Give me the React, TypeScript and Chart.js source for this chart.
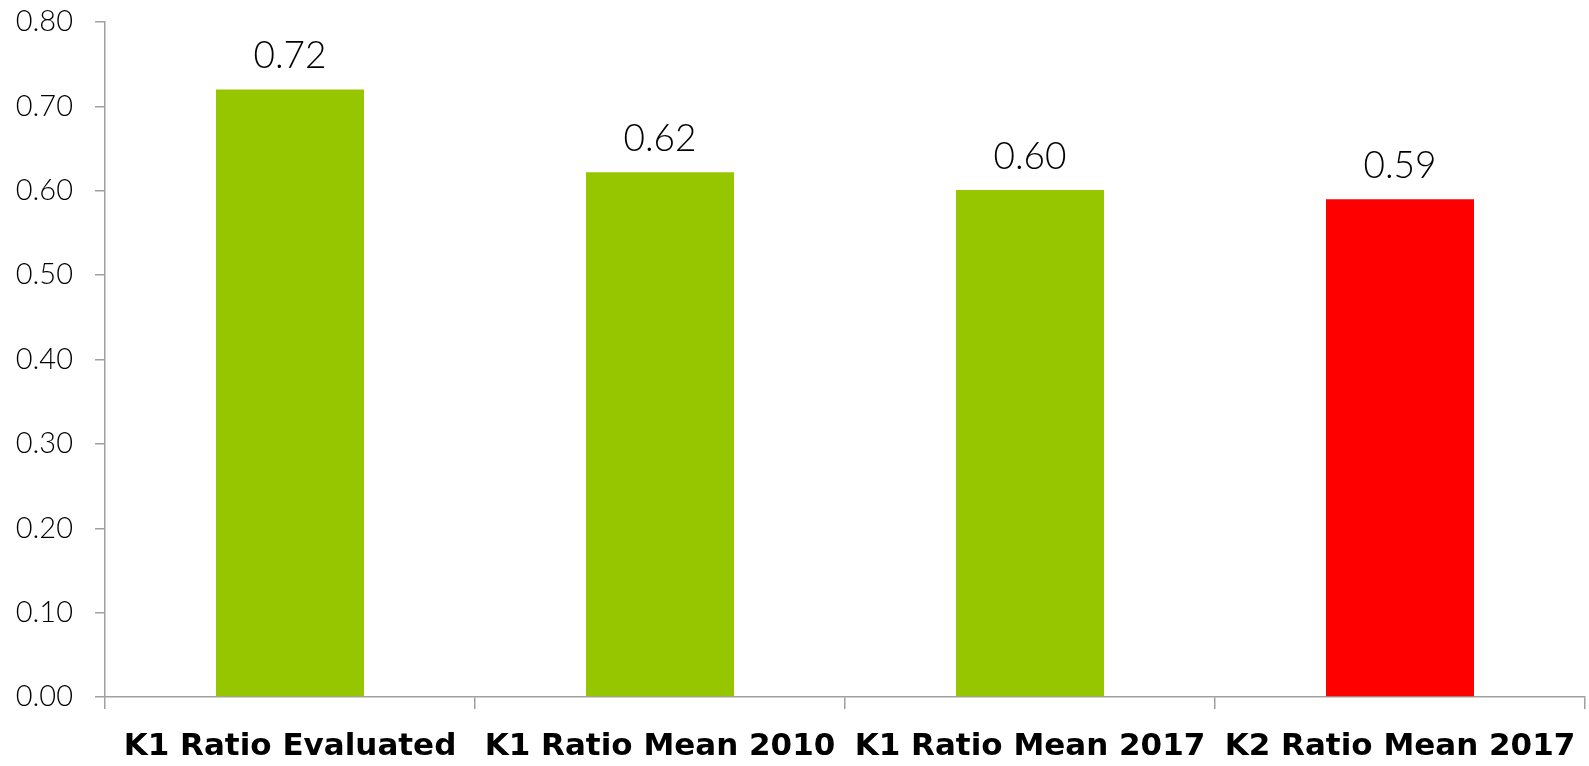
import React, { useEffect, useRef } from "react";
import { Chart, registerables } from "chart.js";

Chart.register(...registerables);

const categories = [
  "K1 Ratio Evaluated",
  "K1 Ratio Mean 2010",
  "K1 Ratio Mean 2017",
  "K2 Ratio Mean 2017",
];
const values = [0.72, 0.622, 0.601, 0.59];
const valueLabels = ["0.72", "0.62", "0.60", "0.59"];
const barColors = ["#95C600", "#95C600", "#95C600", "#FF0000"];

const AXIS_COLOR = "#A0A0A0";

const valueLabelPlugin = {
  id: "valueLabels",
  afterDatasetsDraw(chart: any) {
    const ctx = chart.ctx;
    const meta = chart.getDatasetMeta(0);
    ctx.save();
    ctx.font = "300 37px Lato";
    ctx.fillStyle = "#000";
    ctx.textAlign = "center";
    ctx.textBaseline = "middle";
    meta.data.forEach((bar: any, i: number) => {
      ctx.fillText(valueLabels[i], bar.x, bar.y - 33);
    });
    ctx.restore();
  },
};

export default function App() {
  const ref = useRef<HTMLCanvasElement>(null);
  useEffect(() => {
    document.body.style.margin = "0";
    const chart = new Chart(ref.current!, {
      type: "bar",
      data: {
        labels: categories,
        datasets: [
          {
            data: values,
            backgroundColor: barColors,
            borderWidth: 0,
            barPercentage: 0.4,
            categoryPercentage: 1,
          },
        ],
      },
      options: {
        animation: false,
        responsive: false,
        maintainAspectRatio: false,
        layout: { padding: { top: 22, right: 4, left: 0, bottom: 0 } },
        plugins: { legend: { display: false }, tooltip: { enabled: false } },
        scales: {
          x: {
            grid: {
              offset: true,
              drawOnChartArea: false,
              tickLength: 12,
              color: AXIS_COLOR,
              lineWidth: 1.5,
            },
            border: { color: AXIS_COLOR, width: 1.5 },
            ticks: {
              color: "#000",
              font: { family: "DejaVu Sans", size: 31, weight: "bold" },
              padding: 19,
              maxRotation: 0,
              autoSkip: false,
            },
            afterFit(scale: any) {
              scale.height = 69;
              scale.paddingLeft = 0;
              scale.paddingRight = 0;
              scale.paddingTop = 0;
              scale.paddingBottom = 0;
            },
          },
          y: {
            min: 0,
            max: 0.8,
            grid: {
              drawOnChartArea: false,
              tickLength: 10,
              color: AXIS_COLOR,
              lineWidth: 1.5,
            },
            border: { color: AXIS_COLOR, width: 1.5 },
            ticks: {
              stepSize: 0.1,
              color: "#000",
              font: { family: "Lato", size: 29, weight: "300" },
              padding: 22,
              callback: (v: any) => Number(v).toFixed(2),
            },
            afterFit(scale: any) {
              scale.width = 105;
              scale.paddingLeft = 0;
              scale.paddingRight = 0;
              scale.paddingTop = 0;
              scale.paddingBottom = 0;
            },
          },
        },
      },
      plugins: [valueLabelPlugin],
    });
    return () => chart.destroy();
  }, []);
  return <canvas ref={ref} width={1589} height={766} style={{ display: "block" }} />;
}
